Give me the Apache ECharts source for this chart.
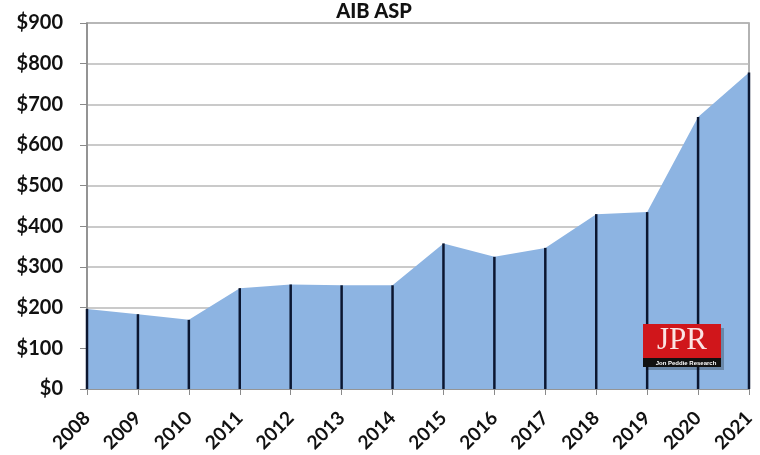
<!DOCTYPE html>
<html>
<head>
<meta charset="utf-8">
<script src="https://cdn.jsdelivr.net/npm/echarts@6/dist/echarts.min.js"></script>
<style>
  html, body { margin: 0; padding: 0; background: #fff; }
  #main { width: 760px; height: 455px; }
</style>
</head>
<body>
<div id="main"></div>
<script>
// years on the x axis
var years = ['2008', '2009', '2010', '2011', '2012', '2013', '2014',
    '2015', '2016', '2017', '2018', '2019', '2020', '2021'];
// average selling price, USD
var asp = [197, 184, 170, 248, 257, 255, 255, 358, 325, 347, 430, 435, 669, 778];
var yTicks = [0, 100, 200, 300, 400, 500, 600, 700, 800, 900];

var chart = echarts.init(document.getElementById('main'));
var font = 'Lato';

var opt = {
    animation: false,
    title: {
        text: 'AIB ASP',
        left: 369,
        top: -3,
        textAlign: 'center',
        textStyle: { fontFamily: font, fontWeight: 900, fontSize: 20, color: '#111' }
    },
    grid: { left: 87, right: 11, top: 23, bottom: 66, show: true, borderColor: '#9a9a9a', borderWidth: 1.5 },
    xAxis: {
        type: 'category',
        data: years,
        boundaryGap: false,
        axisLine: { lineStyle: { color: '#8a8a8a', width: 1.5 } },
        axisTick: { show: true, alignWithLabel: true, length: 6, lineStyle: { color: '#8a8a8a' } },
        axisLabel: {
            rotate: 45, margin: 26, interval: 0,
            fontFamily: font, fontWeight: 'bold', fontSize: 19, color: '#111'
        }
    },
    yAxis: {
        type: 'value',
        min: yTicks[0],
        max: yTicks[yTicks.length - 1],
        interval: 100,
        axisLine: { show: true, lineStyle: { color: '#8a8a8a', width: 1.5 } },
        axisTick: { show: true, length: 7, lineStyle: { color: '#8a8a8a' } },
        splitLine: { lineStyle: { color: '#b8b8b8', width: 1.5 } },
        axisLabel: {
            margin: 24,
            fontFamily: font, fontWeight: 'bold', fontSize: 20, color: '#111',
            formatter: function (v) { return '$' + v; }
        }
    },
    series: [
        {
            name: 'ASP',
            type: 'line',
            data: asp,
            symbol: 'none',
            lineStyle: { width: 0 },
            areaStyle: { color: '#8db4e2', opacity: 1 },
            z: 1
        },
        {
            // drop lines
            name: 'drop',
            type: 'bar',
            data: asp,
            barWidth: 2.5,
            itemStyle: { color: '#0b1630' },
            z: 3
        }
    ],
    graphic: [
        { type: 'rect', shape: { x: 646, y: 328, width: 78, height: 42 }, style: { fill: 'rgba(0,0,0,0.25)' }, z: 10 },
        { type: 'rect', shape: { x: 643, y: 324, width: 78, height: 34 }, style: { fill: '#d0161b' }, z: 11 },
        { type: 'rect', shape: { x: 643, y: 358, width: 78, height: 9 }, style: { fill: '#111' }, z: 11 },
        {
            type: 'text', x: 682, y: 341, z: 12,
            style: { text: 'JPR', fill: '#fbe3e3', font: '31px "Liberation Serif"', align: 'center', verticalAlign: 'middle' }
        },
        {
            type: 'text', x: 686, y: 363, z: 12,
            style: { text: 'Jon Peddie Research', fill: '#fff', font: 'bold 6px "Liberation Sans Narrow", "Liberation Sans"', align: 'center', verticalAlign: 'middle' }
        }
    ]
};

chart.setOption(opt);
</script>
</body>
</html>
